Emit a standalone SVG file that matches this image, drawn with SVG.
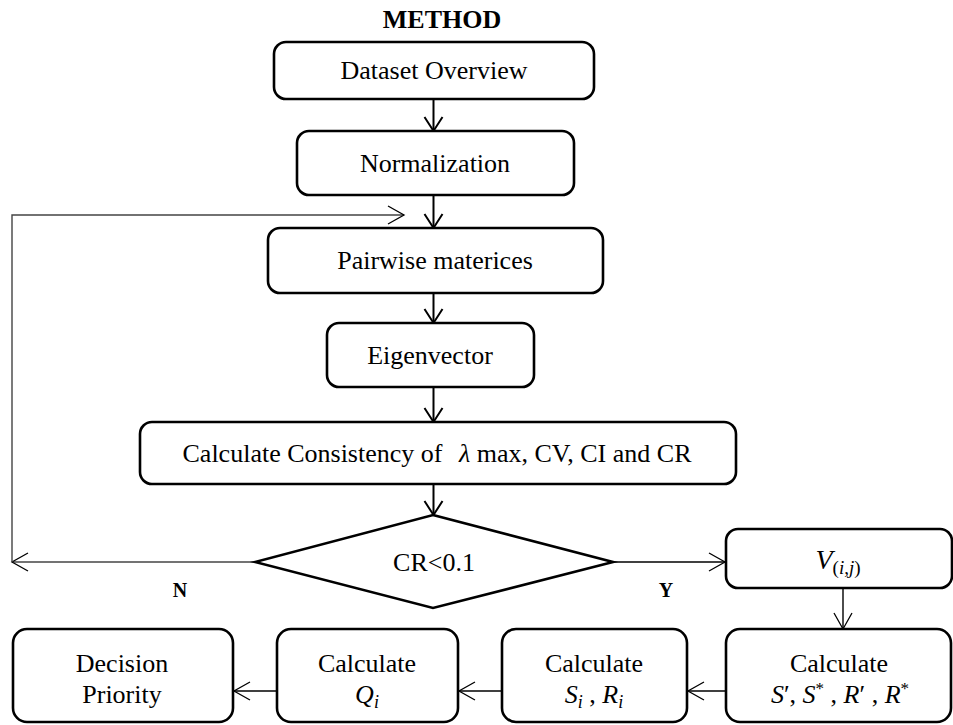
<svg xmlns="http://www.w3.org/2000/svg" width="953" height="725" viewBox="0 0 953 725" font-family="Liberation Serif">
<style>
.box{fill:#fff;stroke:#000;stroke-width:2.6}
.c{fill:none;stroke:#000;stroke-width:2}
.thin{fill:none;stroke:#000;stroke-width:1.4}
.grey{fill:none;stroke:#444;stroke-width:1.4}
</style>
<defs>
<marker id="ah" viewBox="-16 -11 18 22" markerWidth="18" markerHeight="22" refX="0" refY="0" markerUnits="userSpaceOnUse" orient="auto" overflow="visible">
<path d="M-14,-9 L0,0 L-14,9" fill="none" stroke="#000" stroke-width="2"/>
</marker>
<marker id="ah2" viewBox="-18 -11 20 22" markerWidth="20" markerHeight="22" refX="0" refY="0" markerUnits="userSpaceOnUse" orient="auto" overflow="visible">
<path d="M-16,-9 L0,0 L-16,9" fill="none" stroke="#000" stroke-width="1.3"/>
</marker>
</defs>
<text x="442" y="28" font-family="Liberation Serif" font-size="26" font-weight="bold" text-anchor="middle" style="font-family:'Liberation Serif',serif">METHOD</text>
<g id="connectors">
<line class="c" x1="433.5" y1="99" x2="433.5" y2="131" marker-end="url(#ah)"/>
<line class="c" x1="433.5" y1="195" x2="433.5" y2="228" marker-end="url(#ah)"/>
<line class="c" x1="433.5" y1="293" x2="433.5" y2="323" marker-end="url(#ah)"/>
<line class="c" x1="433.5" y1="387" x2="433.5" y2="422" marker-end="url(#ah)"/>
<line class="c" x1="433.5" y1="484" x2="433.5" y2="515" marker-end="url(#ah)"/>
<line class="grey" x1="255" y1="562" x2="12" y2="562" marker-end="url(#ah2)"/>
<polyline class="grey" points="12,562 12,215 404,215" marker-end="url(#ah2)"/>
<line class="thin" x1="613" y1="562" x2="725" y2="562" marker-end="url(#ah2)"/>
<line class="thin" x1="843" y1="588" x2="843" y2="629" marker-end="url(#ah2)"/>
<line class="thin" x1="726" y1="691" x2="688" y2="691" marker-end="url(#ah2)"/>
<line class="thin" x1="502" y1="691" x2="459" y2="691" marker-end="url(#ah2)"/>
<line class="thin" x1="277" y1="691" x2="234" y2="691" marker-end="url(#ah2)"/>
<text x="180" y="597" font-size="20" font-weight="bold" text-anchor="middle" style="font-family:'Liberation Serif',serif">N</text>
<text x="666" y="597" font-size="20" font-weight="bold" text-anchor="middle" style="font-family:'Liberation Serif',serif">Y</text>
</g>
<g id="dataset">
<rect class="box" x="274" y="42" width="320" height="57" rx="12"/>
<text x="434" y="79" font-size="26" text-anchor="middle" style="font-family:'Liberation Serif',serif">Dataset Overview</text>
</g>
<g id="normalization">
<rect class="box" x="297" y="131" width="277" height="64" rx="12"/>
<text x="435" y="172" font-size="26" text-anchor="middle" style="font-family:'Liberation Serif',serif">Normalization</text>
</g>
<g id="pairwise">
<rect class="box" x="268" y="228" width="335" height="65" rx="12"/>
<text x="435" y="269" font-size="26" text-anchor="middle" style="font-family:'Liberation Serif',serif">Pairwise materices</text>
</g>
<g id="eigenvector">
<rect class="box" x="327" y="323" width="207" height="64" rx="12"/>
<text x="430" y="364" font-size="26" text-anchor="middle" style="font-family:'Liberation Serif',serif">Eigenvector</text>
</g>
<g id="consistency">
<rect class="box" x="140" y="422" width="596" height="62" rx="12"/>
<text x="437" y="462" font-size="26" text-anchor="middle" style="font-family:'Liberation Serif',serif">Calculate Consistency of <tspan dx="10" font-style="italic">λ</tspan> max, CV, CI and CR</text>
</g>
<g id="decision">
<polygon class="box" points="433,515 613,562 433,608 255,562"/>
<text x="434" y="571" font-size="26" text-anchor="middle" style="font-family:'Liberation Serif',serif">CR&lt;0.1</text>
</g>
<g id="v">
<rect class="box" x="726" y="529" width="226" height="59" rx="12"/>
<text x="838" y="569" font-size="26" text-anchor="middle" style="font-family:'Liberation Serif',serif"><tspan font-style="italic" font-size="28">V</tspan><tspan dy="5" font-size="19">(<tspan font-style="italic">i</tspan>,<tspan font-style="italic">j</tspan>)</tspan></text>
</g>
<g id="calc-s-r">
<rect class="box" x="726" y="629" width="225" height="93" rx="14"/>
<text x="839" y="672" font-size="26" text-anchor="middle" style="font-family:'Liberation Serif',serif">Calculate</text>
<text x="840" y="703" font-size="26" text-anchor="middle" style="font-family:'Liberation Serif',serif"><tspan font-style="italic">S</tspan>′, <tspan font-style="italic">S</tspan><tspan dy="-9" font-size="17">*</tspan><tspan dy="9"> , </tspan><tspan font-style="italic">R</tspan>′ , <tspan font-style="italic">R</tspan><tspan dy="-9" font-size="17">*</tspan></text>
</g>
<g id="calc-si-ri">
<rect class="box" x="502" y="629" width="185" height="93" rx="14"/>
<text x="594" y="672" font-size="26" text-anchor="middle" style="font-family:'Liberation Serif',serif">Calculate</text>
<text x="594" y="703" font-size="26" text-anchor="middle" style="font-family:'Liberation Serif',serif"><tspan font-style="italic">S</tspan><tspan dy="5" font-style="italic" font-size="18">i</tspan><tspan dy="-5"> , </tspan><tspan font-style="italic">R</tspan><tspan dy="5" font-style="italic" font-size="18">i</tspan></text>
</g>
<g id="calc-qi">
<rect class="box" x="277" y="629" width="181" height="93" rx="14"/>
<text x="367" y="672" font-size="26" text-anchor="middle" style="font-family:'Liberation Serif',serif">Calculate</text>
<text x="367" y="703" font-size="26" text-anchor="middle" style="font-family:'Liberation Serif',serif"><tspan font-style="italic">Q</tspan><tspan dy="5" font-style="italic" font-size="18">i</tspan></text>
</g>
<g id="decision-priority">
<rect class="box" x="13" y="629" width="220" height="93" rx="14"/>
<text x="122" y="672" font-size="26" text-anchor="middle" style="font-family:'Liberation Serif',serif">Decision</text>
<text x="122" y="703" font-size="26" text-anchor="middle" style="font-family:'Liberation Serif',serif">Priority</text>
</g>
</svg>
